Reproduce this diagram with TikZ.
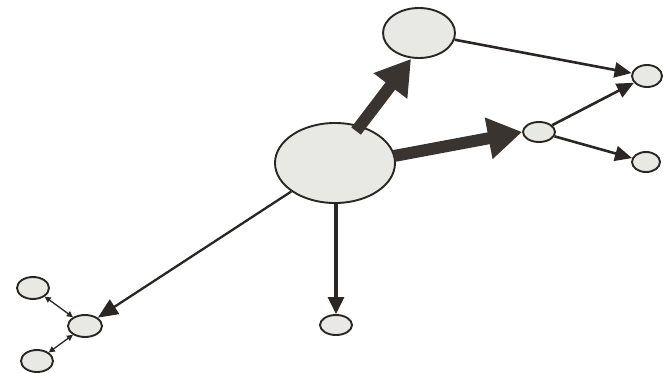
\documentclass[tikz,border=0pt]{standalone}
\usetikzlibrary{arrows.meta,shapes.geometric}
\definecolor{ink}{HTML}{2A2623}
\definecolor{fatink}{HTML}{3A3431}
\definecolor{nodefill}{HTML}{E8E8E5}
\begin{document}
\begin{tikzpicture}[x=1pt,y=-1pt,
  blob/.style={ellipse,draw=ink,line width=1.9pt,fill=nodefill,inner sep=0pt},
  fat/.style={draw=fatink,line width=12pt,-{Triangle[length=34pt,width=40pt]}},
  mid/.style={draw=ink,line width=2.6pt,-{Triangle[length=17pt,width=15pt]}},
  thin/.style={draw=ink,line width=2.3pt,-{Triangle[length=20pt,width=17pt]}},
  small/.style={draw=ink,line width=1.3pt,{Triangle[length=6pt,width=6pt]}-{Triangle[length=6pt,width=6pt]}}]
\useasboundingbox (0,0) rectangle (669,372);
\node[blob,minimum width=120pt,minimum height=80pt] (c) at (335,163) {};
\node[blob,minimum width=72pt,minimum height=50pt] (t) at (419,33) {};
\node[blob,minimum width=30pt,minimum height=22pt] (rt) at (647,76) {};
\node[blob,minimum width=32pt,minimum height=20pt] (m) at (539,132) {};
\node[blob,minimum width=28pt,minimum height=20pt] (rb) at (646,162) {};
\node[blob,minimum width=34pt,minimum height=22pt] (h) at (85,326) {};
\node[blob,minimum width=32pt,minimum height=22pt] (tl) at (33,288) {};
\node[blob,minimum width=32pt,minimum height=22pt] (bl) at (37,361) {};
\node[blob,minimum width=32pt,minimum height=20pt] (bm) at (336,325) {};
\draw[fat] (c.north east) ++(-22,-3) coordinate (cs1) -- ([xshift=-8pt]t.south);
\draw[fat] (c.east) ++(-2,-7) coordinate (cs2) -- (m.west);
\draw[mid] (t) -- (rt);
\draw[mid] (m) -- (rt);
\draw[mid] (m) -- (rb);
\draw[ink,line width=3.2pt,-{Triangle[length=17pt,width=16pt]}] (c.south) ++(1,0) coordinate (cs3) -- (bm.north);
\draw[thin] (c) -- (h);
\draw[small] (h) -- (tl);
\draw[small] (h) -- (bl);
\end{tikzpicture}
\end{document}
